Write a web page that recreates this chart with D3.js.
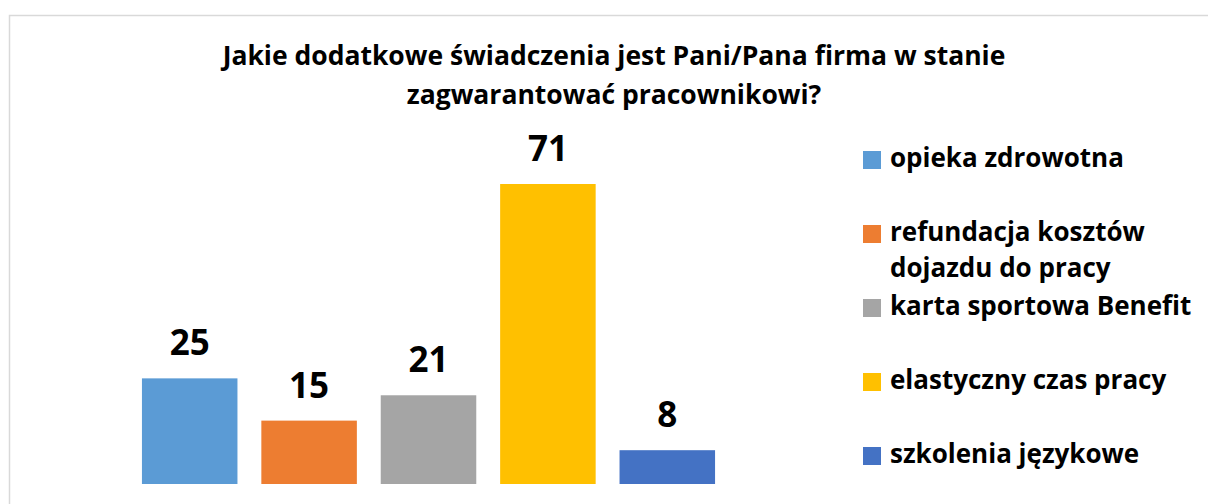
<!DOCTYPE html>
<html>
<head>
<meta charset="utf-8">
<script src="https://cdn.jsdelivr.net/npm/d3@7"></script>
<style>
  body { margin: 0; background: #fff; }
  text { font-family: "Open Sans", "Noto Sans", sans-serif; font-weight: bold; fill: #000; }
</style>
</head>
<body>
<div id="chartArea"></div>
<script>
const titleLines = ["Jakie dodatkowe świadczenia jest Pani/Pana firma w stanie", "zagwarantować pracownikowi?"];
const categories = ["opieka zdrowotna", "refundacja kosztów dojazdu do pracy", "karta sportowa Benefit", "elastyczny czas pracy", "szkolenia językowe"];
const values = [25, 15, 21, 71, 8];
// legend text as it wraps in the original
const legendLines = [["opieka zdrowotna"], ["refundacja kosztów", "dojazdu do pracy"], ["karta sportowa Benefit"], ["elastyczny czas pracy"], ["szkolenia językowe"]];
const palette = ["#5B9BD5", "#ED7D31", "#A5A5A5", "#FFC000", "#4472C4"];

const width = 1208;
const height = 504;

const svg = d3.select("#chartArea").append("svg")
  .attr("width", width)
  .attr("height", height);

// outer frame
svg.append("rect")
  .attr("x", 9.5).attr("y", 15.5)
  .attr("width", 1250).attr("height", 600)
  .attr("fill", "none")
  .attr("stroke", "#d9d9d9")
  .attr("stroke-width", 1.5);

// title
svg.append("g").selectAll("text")
  .data(titleLines)
  .enter().append("text")
  .attr("x", 614)
  .attr("y", (d, i) => 65 + i * 39)
  .attr("text-anchor", "middle")
  .style("font-size", "26.5px")
  .text(d => d);

const x = d3.scaleBand()
  .domain(categories)
  .range([130, 727])
  .paddingInner(0.2)
  .paddingOuter(0.1);

const y = d3.scaleLinear().domain([0, 71]).range([484, 184]);

const color = d3.scaleOrdinal().domain(categories).range(palette);

const data = categories.map((c, i) => ({ name: c, value: values[i] }));

//bars
svg.append("g").selectAll("rect")
  .data(data)
  .enter().append("rect")
  .attr("x", d => x(d.name))
  .attr("y", d => y(d.value))
  .attr("width", x.bandwidth())
  .attr("height", d => y(0) - y(d.value))
  .attr("fill", d => color(d.name));

//value labels
svg.append("g").selectAll("text")
  .data(data)
  .enter().append("text")
  .attr("x", d => x(d.name) + x.bandwidth() / 2)
  .attr("y", d => y(d.value) - 23)
  .attr("text-anchor", "middle")
  .style("font-size", "35px")
  .text(d => d.value);

//legend
const legendY = d3.scalePoint().domain(categories).range([167, 463]);

const legend = svg.append("g").selectAll("g")
  .data(data)
  .enter().append("g")
  .attr("transform", d => `translate(863,${legendY(d.name)})`);

legend.append("rect")
  .attr("x", 0).attr("y", -16)
  .attr("width", 18).attr("height", 18)
  .attr("fill", d => color(d.name));

legend.append("text")
  .attr("x", 27)
  .style("font-size", "26px")
  .selectAll("tspan")
  .data((d, i) => legendLines[i])
  .enter().append("tspan")
  .attr("x", 27)
  .attr("dy", (d, i) => i === 0 ? 0 : 36)
  .text(d => d);
</script>
</body>
</html>
